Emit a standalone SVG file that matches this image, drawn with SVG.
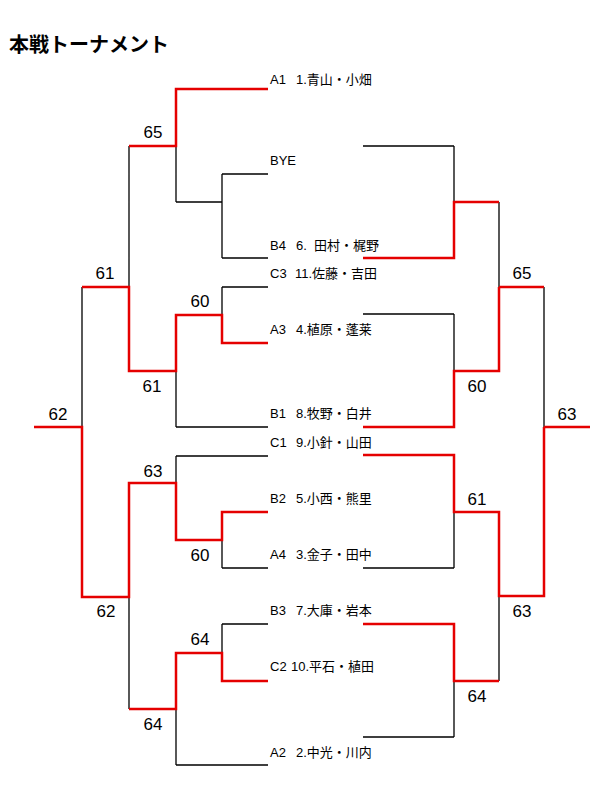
<svg xmlns="http://www.w3.org/2000/svg" width="600" height="800" viewBox="0 0 600 800">
<style>
.bg{fill:#ffffff}
.title{font-family:"Liberation Sans","Noto Sans CJK JP",sans-serif;font-size:20px;font-weight:bold;fill:#000}
.p{font-family:"Liberation Sans","Noto Sans CJK JP",sans-serif;font-size:13px;fill:#000}
.s{font-family:"Liberation Sans",Arial,sans-serif;font-size:17px;fill:#000;text-anchor:middle}
.k{fill:none;stroke:#000;stroke-width:1.3}
.r{fill:none;stroke:#e50000;stroke-width:2.5}
</style>
<rect class="bg" x="0" y="0" width="600" height="800"/>
<text id="title" class="title" x="9" y="52">本戦トーナメント</text>

<g id="connectors">
<g id="lines-black">
<path class="k" d="M129,146V287 M176,146V202 M176,202H222 M222,174V258 M222,174H268 M222,258H268 M82,287V427 M222,287V315 M222,287H268 M176,371V427 M176,427H268 M176,456H268 M176,456V483 M222,540V568 M222,568H268 M129,597V709 M222,624H268 M222,624V653 M176,709V765 M176,765H268"/>
<path class="k" d="M363,146H454 M454,146V202 M499,202V287 M363,314H454 M454,314V371 M544,287V427 M454,512V568 M363,568H454 M499,596V681 M454,681V737 M363,737H454"/>
</g>
<g id="lines-red">
<path class="r" d="M268,89H176V146H129 M82,287H129V371H176V315H222V343H268 M34,427H82V597H129V483H176V540H222V512H268 M268,681H222V653H176V709H129"/>
<path class="r" d="M363,258H454V202H499 M499,287H544 M499,287V371H454V427H363 M544,427H590 M363,455H454V512H499V596H544V427 M363,624H454V681H499"/>
</g>
</g>

<g id="players">
<g id="p-A1"><text class="p" x="270" y="84">A1<tspan x="296">1.青山・小畑</tspan></text></g>
<g id="p-BYE"><text class="p" x="270" y="165">BYE</text></g>
<g id="p-B4"><text class="p" x="270" y="250">B4<tspan x="296">6.</tspan><tspan x="314">田村・梶野</tspan></text></g>
<g id="p-C3"><text class="p" x="270" y="278">C3<tspan x="295">11.佐藤・吉田</tspan></text></g>
<g id="p-A3"><text class="p" x="270" y="334">A3<tspan x="296">4.植原・蓬莱</tspan></text></g>
<g id="p-B1"><text class="p" x="270" y="418">B1<tspan x="296">8.牧野・白井</tspan></text></g>
<g id="p-C1"><text class="p" x="270" y="447">C1<tspan x="296">9.小針・山田</tspan></text></g>
<g id="p-B2"><text class="p" x="270" y="503">B2<tspan x="296">5.小西・熊里</tspan></text></g>
<g id="p-A4"><text class="p" x="270" y="559">A4<tspan x="296">3.金子・田中</tspan></text></g>
<g id="p-B3"><text class="p" x="270" y="615">B3<tspan x="296">7.大庫・岩本</tspan></text></g>
<g id="p-C2"><text class="p" x="270" y="671">C2<tspan x="291">10.平石・植田</tspan></text></g>
<g id="p-A2"><text class="p" x="270" y="757">A2<tspan x="296">2.中光・川内</tspan></text></g>
</g>

<g id="scores">
<g id="s1"><text class="s" x="153" y="138">65</text></g>
<g id="s2"><text class="s" x="105" y="279">61</text></g>
<g id="s3"><text class="s" x="200" y="307">60</text></g>
<g id="s4"><text class="s" x="152" y="392">61</text></g>
<g id="s5"><text class="s" x="58" y="420">62</text></g>
<g id="s6"><text class="s" x="153" y="477">63</text></g>
<g id="s7"><text class="s" x="200" y="561">60</text></g>
<g id="s8"><text class="s" x="106" y="617">62</text></g>
<g id="s9"><text class="s" x="200" y="645">64</text></g>
<g id="s10"><text class="s" x="153" y="730">64</text></g>
<g id="s11"><text class="s" x="522" y="279">65</text></g>
<g id="s12"><text class="s" x="477" y="392">60</text></g>
<g id="s13"><text class="s" x="567" y="420">63</text></g>
<g id="s14"><text class="s" x="477" y="505">61</text></g>
<g id="s15"><text class="s" x="522" y="617">63</text></g>
<g id="s16"><text class="s" x="477" y="702">64</text></g>
</g>
</svg>
